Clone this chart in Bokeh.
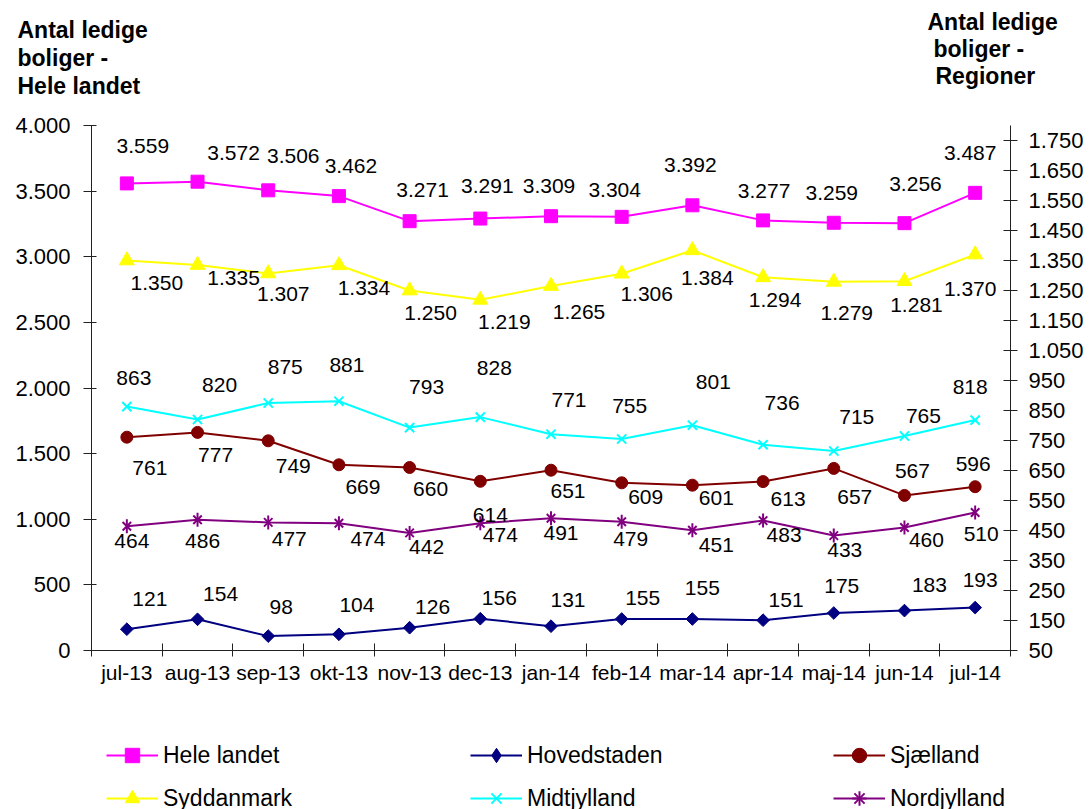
import math
from bokeh.plotting import figure
from bokeh.layouts import column
from bokeh.models import (Range1d, LinearAxis, FixedTicker, Legend, LegendItem,
                          ColumnDataSource)
from bokeh.embed import file_html
from bokeh.resources import INLINE
from bokeh.core.properties import value

# ---------------- data ----------------
months = ["jul-13", "aug-13", "sep-13", "okt-13", "nov-13", "dec-13", "jan-14",
          "feb-14", "mar-14", "apr-14", "maj-14", "jun-14", "jul-14"]

hele_landet = [3559, 3572, 3506, 3462, 3271, 3291, 3309, 3304, 3392, 3277, 3259, 3256, 3487]
hovedstaden = [121, 154, 98, 104, 126, 156, 131, 155, 155, 151, 175, 183, 193]
sjaelland = [761, 777, 749, 669, 660, 614, 651, 609, 601, 613, 657, 567, 596]
syddanmark = [1350, 1335, 1307, 1334, 1250, 1219, 1265, 1306, 1384, 1294, 1279, 1281, 1370]
midtjylland = [863, 820, 875, 881, 793, 828, 771, 755, 801, 736, 715, 765, 818]
nordjylland = [464, 486, 477, 474, 442, 474, 491, 479, 451, 483, 433, 460, 510]

left_ticks = [0, 500, 1000, 1500, 2000, 2500, 3000, 3500, 4000]
left_tick_labels = ["0", "500", "1.000", "1.500", "2.000", "2.500", "3.000", "3.500", "4.000"]
right_ticks = [50, 150, 250, 350, 450, 550, 650, 750, 850, 950, 1050, 1150, 1250,
               1350, 1450, 1550, 1650, 1750]
right_tick_labels = ["50", "150", "250", "350", "450", "550", "650", "750", "850", "950",
                     "1.050", "1.150", "1.250", "1.350", "1.450", "1.550", "1.650", "1.750"]

left_title = ["Antal ledige", "boliger -", "Hele landet"]
right_title = ["Antal ledige", "boliger -", "Regioner"]

# data-label placement (screen pixel offsets from each point)
hele_dx = [16, 36, 25, 12, 13, 7, -2, -7, -2, 1, -2, 11, -5]
hele_dy = [-37, -29, -34, -30, -31, -33, -30, -27, -40, -29, -30, -39, -40]
syd_dx = [30, 36, 15, 25, 21, 24, 28, 25, 15, 12, 13, 12, -5]
syd_dy = [22, 13, 21, 23, 22, 22, 26, 20, 28, 23, 31, 24, 34]
midt_dx = [7, 22, 17, 8, 17, 14, 18, 8, 21, 19, 23, 19, -5]
midt_dy = [-29, -35, -36, -36, -41, -49, -34, -33, -43, -42, -34, -20, -33]
sjae_dx = [23, 18, 25, 24, 21, 10, 17, 24, 24, 25, 21, 8, -2]
sjae_dy = [31, 23, 25, 22, 21, 34, 21, 14, 13, 17, 29, -24, -23]
nord_dx = [5, 5, 21, 29, 17, 20, 10, 9, 24, 21, 11, 22, 6]
nord_dy = [15, 21, 17, 16, 14, 12, 15, 17, 15, 14, 14, 12, 21]
hov_dx = [23, 23, 13, 18, 23, 19, 17, 21, 10, 23, 8, 25, 5]
hov_dy = [-30, -25, -29, -29, -21, -21, -26, -21, -31, -20, -27, -26, -28]

FONT = "Liberation Sans"
W = 1092


def dk(v):
    return f"{v:,}".replace(",", ".")


# ---------------- styles ----------------
STYLE = {
    "Hele landet": dict(color="#FF00FF", markers=[dict(marker="square", size=13)]),
    "Hovedstaden": dict(color="#000080", markers=[dict(marker="square", size=9, angle=math.pi / 4)]),
    "Sjælland": dict(color="#800000", markers=[dict(marker="circle", size=12)]),
    "Syddanmark": dict(color="#FFFF00", markers=[dict(marker="triangle", size=15)]),
    "Midtjylland": dict(color="#00FFFF", markers=[dict(marker="x", size=13, line_width=2)]),
    "Nordjylland": dict(color="#800080", markers=[dict(marker="x", size=12, line_width=2),
                                                  dict(marker="dash", size=14, angle=math.pi / 2,
                                                       line_width=2)]),
}
# legend swatches are drawn un-rotated by Bokeh, so use equivalent shapes there
LEGEND_MARKERS = {
    "Hovedstaden": [dict(marker="diamond", size=14)],
    "Nordjylland": [dict(marker="x", size=12, line_width=2),
                    dict(marker="cross", size=12, line_width=2)],
}


def draw(fig, name, src, rng, markers=None):
    st = STYLE[name]
    kw = {} if rng is None else {"y_range_name": rng}
    rl = fig.line("x", "y", source=src, line_color=st["color"], line_width=2, **kw)
    rs = []
    for m in (markers or st["markers"]):
        rs.append(fig.scatter("x", "y", source=src, fill_color=st["color"],
                              line_color=st["color"], **m, **kw))
    return [rl] + rs


# ---------------- title strip ----------------
pt = figure(width=W, height=100, output_backend="svg", toolbar_location=None,
            x_range=Range1d(0, W), y_range=Range1d(100, 0),
            x_axis_type=None, y_axis_type=None, min_border=0, frame_align=False)
pt.outline_line_color = None
pt.grid.visible = False
pt.text(x=[17, 17, 17], y=[29.5, 57.5, 85], text=left_title,
        text_font=value(FONT), text_font_size="23px", text_font_style="bold",
        text_color="black", text_baseline="middle", text_align="left")
pt.text(x=[927, 933, 935], y=[21, 48, 75], text=right_title,
        text_font=value(FONT), text_font_size="23px", text_font_style="bold",
        text_color="black", text_baseline="middle", text_align="left")

# ---------------- main chart ----------------
xs = list(range(len(months)))

p = figure(width=W, height=600, output_backend="svg", toolbar_location=None,
           x_range=Range1d(-0.5, len(months) - 0.5), y_range=Range1d(0, 4000),
           x_axis_type=None, y_axis_type=None, frame_align=False,
           min_border_left=91, min_border_right=82, min_border_top=25,
           min_border_bottom=50)
p.extra_y_ranges = {"right": Range1d(50, 1800)}
p.outline_line_color = None

AX = "#222222"


def style_axis(ax, tin, tout, standoff, size):
    ax.axis_line_color = AX
    ax.axis_line_width = 1
    ax.major_tick_line_color = AX
    ax.major_tick_in = tin
    ax.major_tick_out = tout
    ax.minor_tick_line_color = AX
    ax.major_label_standoff = standoff
    ax.major_label_text_font = FONT
    ax.major_label_text_font_size = size
    ax.major_label_text_color = "black"


xaxis = LinearAxis(
    ticker=FixedTicker(ticks=xs, minor_ticks=[i - 0.5 for i in range(len(months) + 1)]),
    major_label_overrides={i: m for i, m in enumerate(months)})
style_axis(xaxis, 0, 0, 4, "21px")
xaxis.minor_tick_in = 7
xaxis.minor_tick_out = 6
p.add_layout(xaxis, "below")

yl = LinearAxis(ticker=FixedTicker(ticks=left_ticks),
                major_label_overrides=dict(zip(left_ticks, left_tick_labels)))
style_axis(yl, 5, 8, 13, "22px")
yl.minor_tick_line_color = None
p.add_layout(yl, "left")

yr = LinearAxis(y_range_name="right", ticker=FixedTicker(ticks=right_ticks),
                major_label_overrides=dict(zip(right_ticks, right_tick_labels)))
style_axis(yr, 7, 7, 11, "22px")
yr.minor_tick_line_color = None
p.add_layout(yr, "right")

series = [
    ("Hele landet", hele_landet, None, hele_dx, hele_dy),
    ("Hovedstaden", hovedstaden, "right", hov_dx, hov_dy),
    ("Sjælland", sjaelland, "right", sjae_dx, sjae_dy),
    ("Syddanmark", syddanmark, "right", syd_dx, syd_dy),
    ("Midtjylland", midtjylland, "right", midt_dx, midt_dy),
    ("Nordjylland", nordjylland, "right", nord_dx, nord_dy),
]
sources = []
for name, vals, rng, dx, dy in series:
    src = ColumnDataSource(dict(x=xs, y=vals, t=[dk(v) for v in vals], dx=dx, dy=dy))
    draw(p, name, src, rng)
    sources.append((src, rng))

for src, rng in sources:
    kw = {} if rng is None else {"y_range_name": rng}
    p.text("x", "y", text="t", source=src, x_offset="dx", y_offset="dy",
           text_align="center", text_baseline="middle", text_color="black",
           text_font=value(FONT), text_font_size="21px", **kw)

# ---------------- legend strip ----------------
pl = figure(width=W, height=109, output_backend="svg", toolbar_location=None,
            x_range=Range1d(0, 1), y_range=Range1d(0, 1),
            x_axis_type=None, y_axis_type=None, min_border=0, frame_align=False)
pl.outline_line_color = None
pl.grid.visible = False
leg_rends = {}
for name, *_ in series:
    # legend swatches only: a single off-canvas (NaN) point carries the style
    leg_rends[name] = draw(pl, name,
                           ColumnDataSource(dict(x=[float("nan")], y=[float("nan")])),
                           None, LEGEND_MARKERS.get(name))

legend_cols = [(["Hele landet", "Syddanmark"], 106),
               (["Hovedstaden", "Midtjylland"], 470),
               (["Sjælland", "Nordjylland"], 833)]
for names, lx in legend_cols:
    leg = Legend(items=[LegendItem(label=n, renderers=leg_rends[n]) for n in names],
                 location=(lx, -7), orientation="vertical",
                 padding=0, margin=0, spacing=7, glyph_width=52, glyph_height=36,
                 label_height=20, label_standoff=5, label_text_font=FONT,
                 label_text_font_size="23px", label_text_color="black",
                 border_line_color=None, background_fill_alpha=0)
    pl.add_layout(leg, "center")

layout = column(pt, p, pl, spacing=0)
open("out.html", "w").write(file_html(layout, INLINE))
